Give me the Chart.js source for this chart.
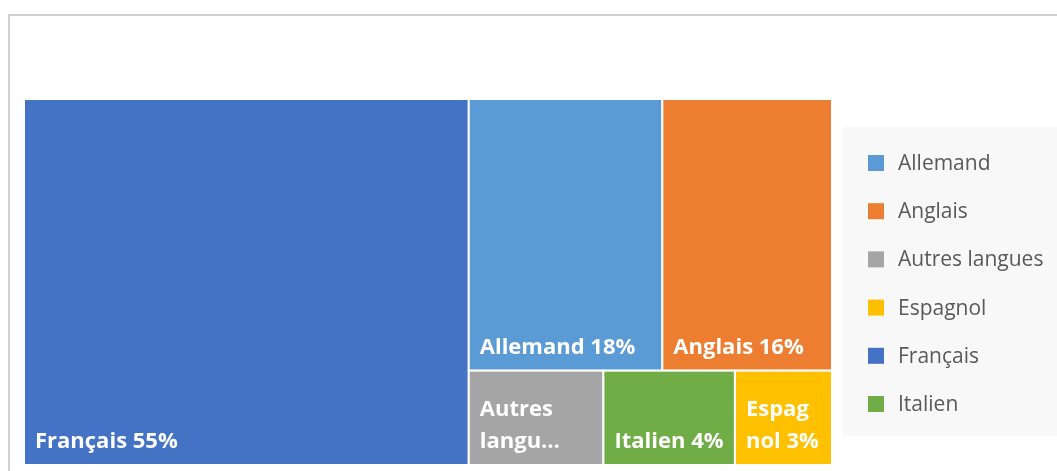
<!DOCTYPE html>
<html>
<head>
<meta charset="utf-8">
<script src="https://cdn.jsdelivr.net/npm/chart.js@4.4.1/dist/chart.umd.min.js"></script>
<style>
  html, body { margin: 0; padding: 0; background: #fff; }
  .chart-box { position: relative; width: 1057px; height: 471px; }
</style>
</head>
<body>
<div class="chart-box"><canvas id="treemap"></canvas></div>
<script>
const categories = ['Allemand', 'Anglais', 'Autres langues', 'Espagnol', 'Français', 'Italien']
const shares = [17.8, 15.6, 4.3, 3.1, 55.1, 4.2]
const colors = ['#5B9BD5', '#ED7D31', '#A5A5A5', '#FFC000', '#4472C4', '#70AD47']

const labelFont = 'bold 22px "Open Sans"'
const legendFont = '21px "Open Sans"'

function worst(row, side) {
    const sum = row.reduce((s, r) => s + r.area, 0)
    const max = Math.max(...row.map(r => r.area))
    const min = Math.min(...row.map(r => r.area))
    return Math.max(side * side * max / (sum * sum), (sum * sum) / (side * side * min))
}

// squarified layout, done in pixel space so the aspect ratios are real
function squarify(items, x, y, w, h) {
    const out = []
    let rest = items.slice()
    while (rest.length) {
        const side = Math.min(w, h)
        const row = [rest[0]]
        let k = 1
        while (k < rest.length && worst(row.concat(rest[k]), side) <= worst(row, side)) {
            row.push(rest[k])
            k++
        }
        rest = rest.slice(k)
        const sum = row.reduce((s, r) => s + r.area, 0)
        if (w >= h) {
            const cw = sum / h
            let cy = y
            row.forEach(r => {
                const rh = r.area / cw
                out.push({ i: r.i, x: x, y: cy, w: cw, h: rh })
                cy += rh
            })
            x += cw
            w -= cw
        } else {
            const rh = sum / w
            let cx = x
            row.forEach(r => {
                const rw = r.area / rh
                out.push({ i: r.i, x: cx, y: y, w: rw, h: rh })
                cx += rw
            })
            y += rh
            h -= rh
        }
    }
    return out
}

function wrapText(ctx, text, maxW) {
    const lines = []
    let line = ''
    text.split(' ').forEach(word => {
        let pieces = [word]
        if (ctx.measureText(word).width > maxW) {
            pieces = []
            let p = ''
            for (const ch of word) {
                if (p && ctx.measureText(p + ch).width > maxW) {
                    pieces.push(p)
                    p = ch
                } else {
                    p += ch
                }
            }
            pieces.push(p)
        }
        pieces.forEach((piece, j) => {
            const test = line ? line + ' ' + piece : piece
            if (line && (j > 0 || ctx.measureText(test).width > maxW)) {
                lines.push(line)
                line = piece
            } else {
                line = test
            }
        })
    })
    if (line) lines.push(line)
    return lines
}

const treemapPlugin = {
    id: 'treemap',
    beforeDraw(chart) {
        const ctx = chart.ctx
        ctx.save()
        ctx.strokeStyle = '#d0d0d0'
        ctx.lineWidth = 2
        ctx.strokeRect(9, 15, chart.width + 20, chart.height + 20)
        ctx.restore()
    },
    afterDatasetsDraw(chart) {
        const ctx = chart.ctx
        const xs = chart.scales.x
        const ys = chart.scales.y
        const W = xs.getPixelForValue(100) - xs.getPixelForValue(0)
        const H = ys.getPixelForValue(100) - ys.getPixelForValue(0)
        const total = shares.reduce((a, b) => a + b, 0)

        const items = shares
            .map((v, i) => ({ i: i, area: v / total * W * H }))
            .sort((a, b) => b.area - a.area)
        const cells = squarify(items, 0, 0, W, H).map(c => ({
            i: c.i,
            x0: c.x / W * 100, x1: (c.x + c.w) / W * 100,
            y0: c.y / H * 100, y1: (c.y + c.h) / H * 100
        }))

        ctx.save()
        cells.forEach(c => {
            const left = xs.getPixelForValue(c.x0)
            const right = xs.getPixelForValue(c.x1)
            const top = ys.getPixelForValue(c.y0)
            const bottom = ys.getPixelForValue(c.y1)
            ctx.fillStyle = colors[c.i]
            ctx.fillRect(left, top, right - left, bottom - top)
            ctx.strokeStyle = '#fff'
            ctx.lineWidth = 2
            ctx.strokeRect(left, top, right - left, bottom - top)

            // label, wrapped and sitting in the bottom left corner
            ctx.font = labelFont
            ctx.fillStyle = '#fff'
            ctx.textBaseline = 'alphabetic'
            ctx.textAlign = 'left'
            const lineH = 32
            const text = categories[c.i] + ' ' + Math.round(shares[c.i]) + '%'
            let lines = wrapText(ctx, text, right - left - 21)
            const maxLines = Math.max(1, Math.floor((bottom - top - 14) / lineH))
            if (lines.length > maxLines) {
                lines = lines.slice(0, maxLines)
                const last = lines[maxLines - 1]
                const limit = ctx.measureText(last).width
                let t = last
                while (t.length > 1 && ctx.measureText(t + '…').width > limit) t = t.slice(0, -1)
                lines[maxLines - 1] = t + '…'
            }
            lines.forEach((l, k) => {
                const base = bottom - 17 - (lines.length - 1 - k) * lineH
                ctx.fillText(l, left + 11, base)
            })
        })

        // legend panel on the right
        const area = chart.chartArea
        const mid = (area.top + area.bottom) / 2
        const boxLeft = area.right + 11
        ctx.fillStyle = '#f8f8f8'
        ctx.fillRect(boxLeft, mid - 155, chart.width - boxLeft, 309)
        const step = 48.2
        const firstY = mid + 1.5 - step * (categories.length - 1) / 2
        ctx.font = legendFont
        ctx.textBaseline = 'middle'
        categories.forEach((name, i) => {
            const cy = firstY + i * step
            ctx.fillStyle = colors[i]
            ctx.fillRect(boxLeft + 25, cy - 8, 16, 16)
            ctx.fillStyle = '#595959'
            ctx.fillText(name, boxLeft + 55, cy + 1)
        })
        ctx.restore()
    }
}

const treemap = new Chart(document.getElementById('treemap'), {
    type: 'scatter',
    data: { datasets: [] },
    options: {
        responsive: true,
        maintainAspectRatio: false,
        animation: false,
        layout: { padding: { left: 24, top: 99, right: 225, bottom: 6 } },
        scales: {
            x: { type: 'linear', min: 0, max: 100, display: false },
            y: { type: 'linear', min: 0, max: 100, reverse: true, display: false }
        },
        plugins: {
            legend: { display: false },
            tooltip: { enabled: false }
        }
    },
    plugins: [treemapPlugin]
})
</script>
</body>
</html>
